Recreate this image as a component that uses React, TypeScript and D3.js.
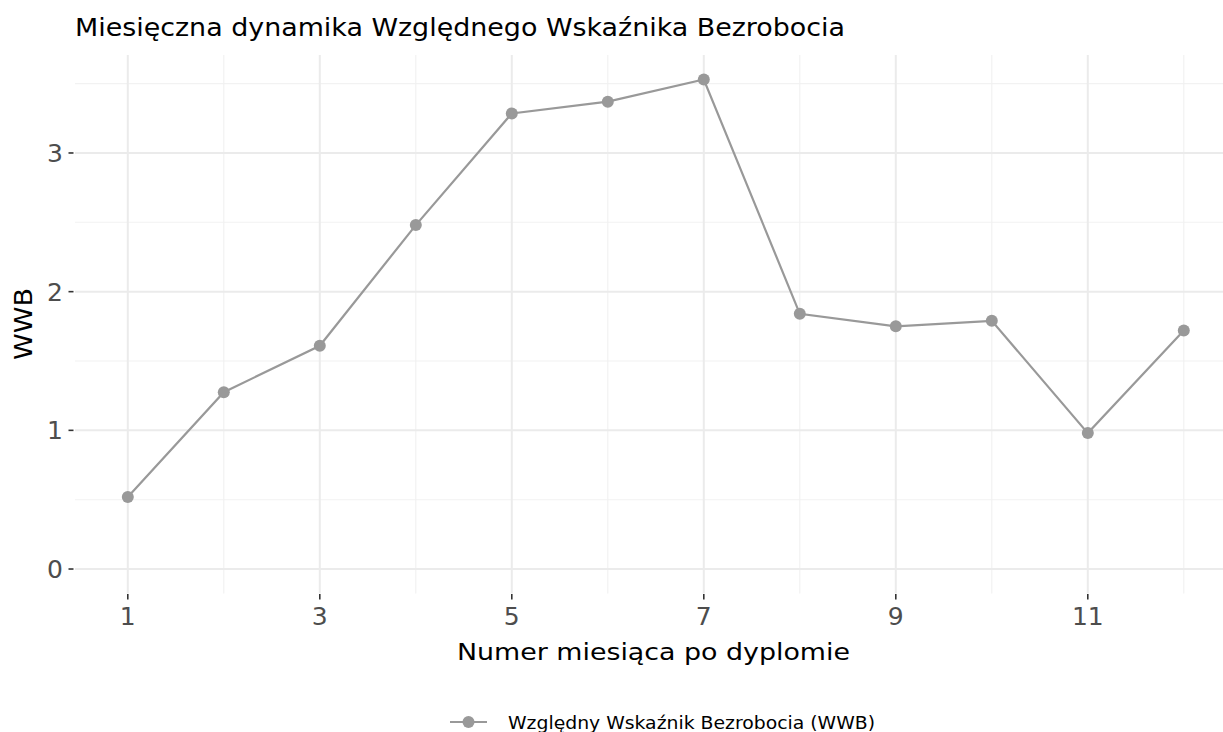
import React from 'react';
import * as d3 from 'd3';

// Miesięczna dynamika WWB
const months = [1, 2, 3, 4, 5, 6, 7, 8, 9, 10, 11, 12];
const wwb = [0.52, 1.275, 1.61, 2.48, 3.285, 3.37, 3.53, 1.84, 1.75, 1.79, 0.98, 1.72];
const xTickValues = [1, 3, 5, 7, 9, 11];
const yTickValues = [0, 1, 2, 3];

const titleText = 'Miesięczna dynamika Względnego Wskaźnika Bezrobocia';
const xTitle = 'Numer miesiąca po dyplomie';
const yTitle = 'WWB';
const legendLabel = 'Względny Wskaźnik Bezrobocia (WWB)';

const FONT = '"DejaVu Sans", Lato, sans-serif';

const App = () => {
  const width = 1223;
  const height = 732;
  const margin = { top: 55, left: 75, bottom: 593.5 };
  const xExpand = (d3.max(months)! - d3.min(months)!) * 0.05;
  const yMax = d3.max(wwb)!;
  const yExpand = yMax * 0.05;

  const x = d3.scaleLinear()
    .domain([d3.min(months)! - xExpand, d3.max(months)! + xExpand])
    .range([margin.left, margin.left + 1161.6]);
  const y = d3.scaleLinear()
    .domain([-yExpand, yMax + yExpand])
    .range([margin.bottom, margin.top]);

  const [x0, x1] = x.range();
  const [y0, y1] = y.range();

  const minorY = yTickValues.map(t => t + 0.5).filter(t => y(t) >= y1);
  const line = d3.line<number>()
    .x((_, i) => x(months[i]))
    .y(d => y(d));

  const data = wwb;

  return (
    <svg width={width} height={height} style={{ position: 'absolute', left: 0, top: 0, background: '#fff' }}
      fontFamily={FONT}>
      {/* grid */}
      {minorY.map(t => (
        <line key={'my' + t} x1={x0} x2={x1} y1={y(t)} y2={y(t)} stroke="#F2F2F2" strokeWidth={1.1} />
      ))}
      {months.filter(m => !xTickValues.includes(m)).map(m => (
        <line key={'mx' + m} x1={x(m)} x2={x(m)} y1={y0} y2={y1} stroke="#F0F0F0" strokeWidth={1.1} />
      ))}
      {yTickValues.map(t => (
        <line key={'gy' + t} x1={x0} x2={x1} y1={y(t)} y2={y(t)} stroke="#EBEBEB" strokeWidth={2} />
      ))}
      {xTickValues.map(t => (
        <line key={'gx' + t} x1={x(t)} x2={x(t)} y1={y0} y2={y1} stroke="#EBEBEB" strokeWidth={2} />
      ))}

      {/* axes ticks */}
      {yTickValues.map(t => (
        <g key={'yt' + t}>
          <line x1={x0 - 6.5} x2={x0 - 1.5} y1={y(t)} y2={y(t)} stroke="#333" strokeWidth={1.6} />
          <text x={x0 - 12} y={y(t)} dy="0.36em" textAnchor="end" fontSize={25} fill="#4D4D4D">{t}</text>
        </g>
      ))}
      {xTickValues.map(t => (
        <g key={'xt' + t}>
          <line x1={x(t)} x2={x(t)} y1={y0 + 0.5} y2={y0 + 6} stroke="#333" strokeWidth={1.6} />
          <text x={x(t)} y={y0 + 31} textAnchor="middle" fontSize={25} fill="#4D4D4D">{t}</text>
        </g>
      ))}

      {/* series */}
      <path d={line(data) ?? ''} fill="none" stroke="#999999" strokeWidth={2.2} />
      {data.map((d, i) => (
        <circle key={i} cx={x(months[i])} cy={y(d)} r={6} fill="#999999" />
      ))}

      {/* titles */}
      <text x={75} y={36} fontSize={24} fill="#000" textLength={770} lengthAdjust="spacingAndGlyphs">{titleText}</text>
      <text x={457} y={660} fontSize={23} fill="#000" textLength={393} lengthAdjust="spacingAndGlyphs">{xTitle}</text>
      <text transform={`translate(32,360) rotate(-90)`} fontSize={24} fill="#000" textLength={72} lengthAdjust="spacingAndGlyphs">{yTitle}</text>

      {/* legend */}
      <g transform="translate(450,722)">
        <line x1={0} x2={37} y1={0} y2={0} stroke="#999999" strokeWidth={2.2} />
        <circle cx={18.5} cy={0} r={6} fill="#999999" />
        <text x={58} y={7} fontSize={18} fill="#000" textLength={367} lengthAdjust="spacingAndGlyphs">{legendLabel}</text>
      </g>
    </svg>
  );
};

export default App;
